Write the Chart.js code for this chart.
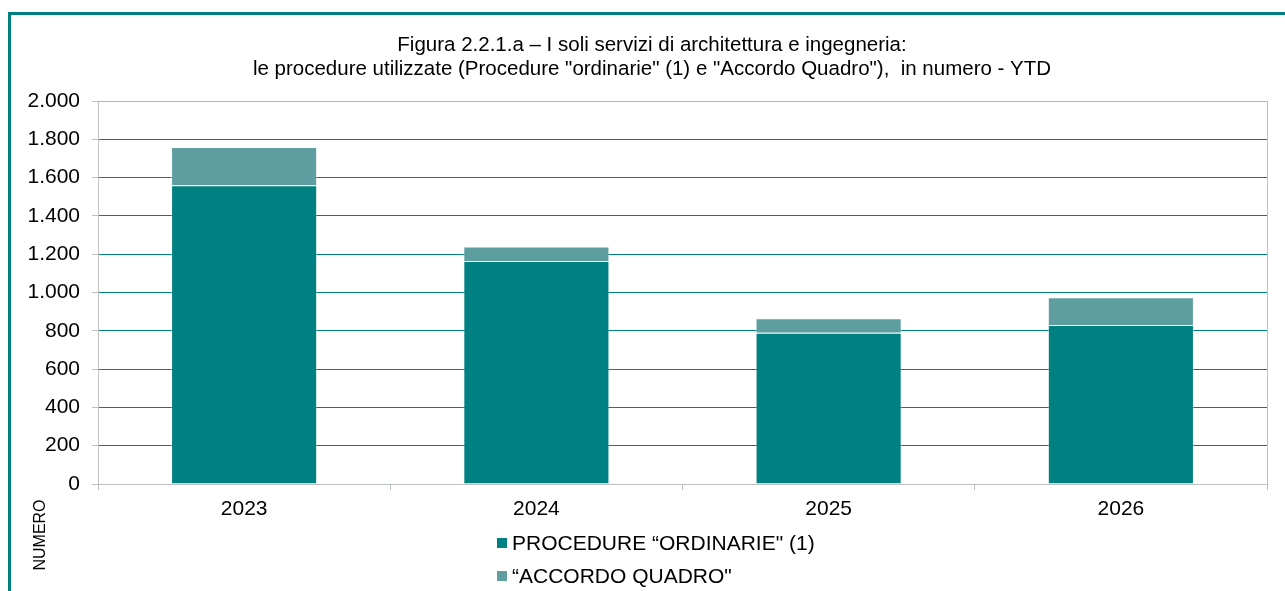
<!DOCTYPE html>
<html>
<head>
<meta charset="utf-8">
<script src="https://cdn.jsdelivr.net/npm/chart.js@4"></script>
<style>
    body { margin: 0; background: #fff; }
    canvas { display: block; }
</style>
</head>
<body>
<canvas id="procedure-chart" width="1285" height="591"></canvas>
<script>
const years = ["2023", "2024", "2025", "2026"];
const ordinarie = [1560, 1165, 790, 830];
const accordo_quadro = [200, 75, 75, 145];
const y_ticks = [0, 200, 400, 600, 800, 1000, 1200, 1400, 1600, 1800, 2000];
const title_lines = [
    "Figura 2.2.1.a \u2013 I soli servizi di architettura e ingegneria:",
    "le procedure utilizzate (Procedure \"ordinarie\" (1) e \"Accordo Quadro\"),  in numero - YTD"
];
const series_labels = ["PROCEDURE \u201cORDINARIE\" (1)", "\u201cACCORDO QUADRO\""];
const axis_label = "NUMERO";

const FONT = "'Liberation Sans', Arial, sans-serif";
const TEAL = "#008080";
const CADET = "#5f9ea0";
const GREY = "#bfbfbf";

function format_number(v) {
    return String(v).replace(/\B(?=(\d{3})+(?!\d))/g, ".");
}

// frame, title, legend and axis caption drawn around the chart
const decorations = {
    id: "decorations",
    afterDraw(chart) {
        const ctx = chart.ctx;
        const area = chart.chartArea;
        ctx.save();

        // teal frame (top and left only are visible)
        ctx.fillStyle = TEAL;
        ctx.fillRect(8, 12, 1285 - 8, 3);
        ctx.fillRect(8, 12, 3, 591 - 12);

        // right edge of plot
        ctx.strokeStyle = GREY;
        ctx.lineWidth = 1;
        ctx.beginPath();
        ctx.moveTo(area.right + 0.5, area.top);
        ctx.lineTo(area.right + 0.5, area.bottom);
        ctx.stroke();

        // title
        ctx.fillStyle = "#000";
        ctx.font = `20.5px ${FONT}`;
        ctx.textAlign = "center";
        ctx.textBaseline = "middle";
        ctx.fillText(title_lines[0], 652, 45);
        ctx.fillText(title_lines[1], 652, 69);

        // legend
        ctx.font = `21px ${FONT}`;
        ctx.textAlign = "left";
        chart.data.datasets.forEach((ds, i) => {
            const y = 543 + i * 33;
            ctx.fillStyle = ds.backgroundColor;
            ctx.fillRect(497, y - 5, 10, 10);
            ctx.fillStyle = "#000";
            ctx.fillText(ds.label, 512, y + 1);
        });

        // axis caption
        ctx.font = `16px ${FONT}`;
        ctx.translate(41, 535);
        ctx.rotate(-Math.PI / 2);
        ctx.textAlign = "center";
        ctx.fillText(axis_label, 0, 0);

        ctx.restore();
    }
};

new Chart(document.getElementById("procedure-chart"), {
    type: "bar",
    data: {
        labels: years,
        datasets: [{
            label: series_labels[0],
            data: ordinarie,
            backgroundColor: TEAL,
            borderColor: "rgba(255,255,255,0.35)",
            borderWidth: 1,
            barPercentage: 0.5,
            categoryPercentage: 1.0
        }, {
            label: series_labels[1],
            data: accordo_quadro,
            backgroundColor: CADET,
            borderColor: "rgba(255,255,255,0.35)",
            borderWidth: 1,
            barPercentage: 0.5,
            categoryPercentage: 1.0
        }]
    },
    options: {
        responsive: false,
        animation: false,
        layout: {
            padding: { top: 101, right: 18, bottom: 0, left: 0 }
        },
        plugins: {
            legend: { display: false },
            title: { display: false },
            tooltip: { enabled: false }
        },
        scales: {
            x: {
                stacked: true,
                afterFit: (scale) => { scale.height = 107; },
                grid: {
                    offset: true,
                    drawOnChartArea: false,
                    tickLength: 6,
                    tickColor: GREY
                },
                border: { color: GREY, width: 1 },
                ticks: {
                    padding: 7,
                    color: "#000",
                    font: { family: FONT, size: 21 }
                }
            },
            y: {
                stacked: true,
                min: 0,
                max: 2000,
                afterFit: (scale) => { scale.width = 98; },
                afterBuildTicks: (scale) => {
                    scale.ticks = y_ticks.map((v) => ({ value: v }));
                },
                grid: {
                    color: (c) => c.tick && c.tick.value === 2000 ? "#96bfbd" : TEAL,
                    lineWidth: 1,
                    tickLength: 6,
                    tickColor: GREY
                },
                border: { color: GREY, width: 1 },
                ticks: {
                    padding: 12,
                    color: "#000",
                    font: { family: FONT, size: 21 },
                    callback: (v) => format_number(v)
                }
            }
        }
    },
    plugins: [decorations]
});
</script>
</body>
</html>
